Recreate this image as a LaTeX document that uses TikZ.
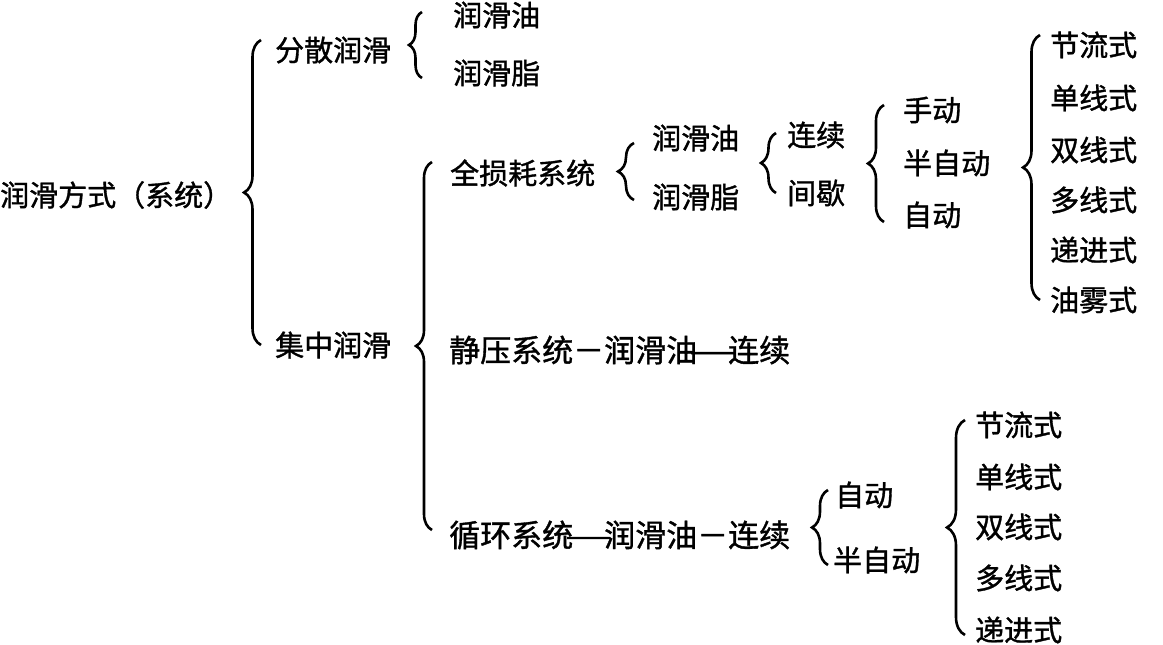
\documentclass[tikz,border=0pt]{standalone}
\usepackage{fontspec}
\setmainfont{Noto Sans CJK SC}[FakeBold=1.2]
\usetikzlibrary{decorations.pathreplacing}
\newcommand{\longdash}{\makebox[1em][c]{\scalebox{1.7}[1]{—}}}
\begin{document}
\begin{tikzpicture}[x=1pt,y=-1pt,
  lbl/.style={anchor=west,inner sep=0pt,font=\fontsize{29}{34}\selectfont},
  wide/.style={font=\fontsize{31}{36}\selectfont},
  brc/.style={decorate,decoration={brace,amplitude=#1},line width=2.6pt},
  brc/.default=16pt
]
\useasboundingbox (0,0) rectangle (1163,645);
% text nodes
\node[lbl] (root) at (0,195) {润滑方式（系统）};
\node[lbl] (fs) at (275,50) {分散润滑};
\node[lbl] (fs1) at (453,15) {润滑油};
\node[lbl] (fs2) at (453,73) {润滑脂};
\node[lbl] (jz) at (275,345) {集中润滑};
\node[lbl] (qs) at (450,173) {全损耗系统};
\node[lbl] (qs1) at (652,138) {润滑油};
\node[lbl] (qs2) at (652,197) {润滑脂};
\node[lbl] (lx) at (787,135) {连续};
\node[lbl] (jx) at (787,193) {间歇};
\node[lbl] (sd) at (903,110) {手动};
\node[lbl] (bzd) at (903,163) {半自动};
\node[lbl] (zd) at (903,215) {自动};
\node[lbl] (t1) at (1050,45) {节流式};
\node[lbl] (t2) at (1050,98) {单线式};
\node[lbl] (t3) at (1050,150) {双线式};
\node[lbl] (t4) at (1050,200) {多线式};
\node[lbl] (t5) at (1050,250) {递进式};
\node[lbl] (t6) at (1050,300) {油雾式};
\node[lbl,wide] (jy) at (449,350) {静压系统－润滑油\longdash 连续};
\node[lbl,wide] (xh) at (449,535) {循环系统\longdash 润滑油－连续};
\node[lbl] (xz) at (835,495) {自动};
\node[lbl] (xb) at (833,560) {半自动};
\node[lbl] (u1) at (975,425) {节流式};
\node[lbl] (u2) at (975,477) {单线式};
\node[lbl] (u3) at (975,527) {双线式};
\node[lbl] (u4) at (975,578) {多线式};
\node[lbl] (u5) at (975,630) {递进式};
% brace end points
\coordinate (b1t) at (261,40);  \coordinate (b1b) at (261,345);
\coordinate (b2t) at (422,12);  \coordinate (b2b) at (422,78);
\coordinate (b3t) at (432,162); \coordinate (b3b) at (432,530);
\coordinate (b4t) at (634,143); \coordinate (b4b) at (634,200);
\coordinate (b5t) at (776,133); \coordinate (b5b) at (776,193);
\coordinate (b6t) at (884,105); \coordinate (b6b) at (884,222);
\coordinate (b7t) at (1040,35); \coordinate (b7b) at (1040,300);
\coordinate (b8t) at (828,490); \coordinate (b8b) at (828,565);
\coordinate (b9t) at (965,420); \coordinate (b9b) at (965,635);
% braces
\draw[brc=17pt] (b1b) -- (b1t);
\draw[brc=13pt] (b2b) -- (b2t);
\draw[brc=16pt] (b3b) -- (b3t);
\draw[brc=16pt] (b4b) -- (b4t);
\draw[brc=15pt] (b5b) -- (b5t);
\draw[brc=16pt] (b6b) -- (b6t);
\draw[brc=17pt] (b7b) -- (b7t);
\draw[brc=16pt] (b8b) -- (b8t);
\draw[brc=18pt] (b9b) -- (b9t);
\end{tikzpicture}
\end{document}
